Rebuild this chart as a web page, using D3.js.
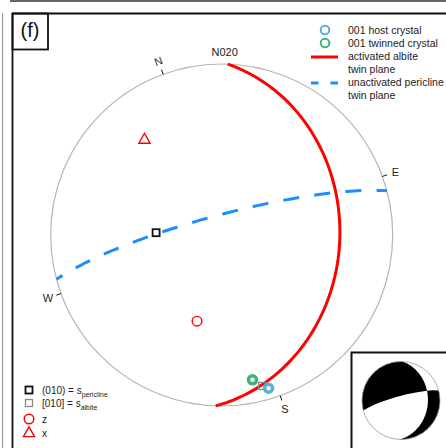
<!DOCTYPE html>
<html>
<head>
<meta charset="utf-8">
<script src="https://cdn.jsdelivr.net/npm/d3@7"></script>
<style>
  body { margin: 0; background: #fff; }
  svg { display: block; font-family: "Liberation Sans", Arial, sans-serif; }
</style>
</head>
<body>
<svg id="chart" width="446" height="448"></svg>
<script>
// Lower-hemisphere equal-area stereonet, view rotated so that N020 is up.
const viewAzimuth = 20;

// Twin planes: dip direction / dip (degrees)
const planeNames  = ["activated albite twin plane", "unactivated pericline twin plane"];
const planeDipDir = [112, 5];
const planeDip    = [31.5, 80.5];

// Lattice directions: trend / plunge
const latticeNames  = ["(010) = s", "[010] = s"];
const latticeSubs   = ["pericline", "albite"];
const latticeTrend  = [292, 185];
const latticePlunge = [58.5, 9.5];

// 001 poles of host and twinned crystal
const c001Names  = ["001 host crystal", "001 twinned crystal"];
const c001Trend  = [183, 188];
const c001Plunge = [7, 14.5];

// Kinematic axes
const axisNames  = ["z", "x"];
const axisTrend  = [216, 341];
const axisPlunge = [46.5, 29];

// Cardinal directions on the primitive
const cardinalLabels = ["N", "E", "S", "W"];
const cardinalTrend  = [0, 90, 180, 270];

const rad = Math.PI / 180, deg = 180 / Math.PI;
const svg = d3.select("#chart");

// (north, east, down) unit vector
function vec(trend, plunge) {
  const t = trend * rad, p = plunge * rad;
  return [Math.cos(p) * Math.cos(t), Math.cos(p) * Math.sin(t), Math.sin(p)];
}
// map a direction onto the sphere used by the d3 projection (down = lat 90)
function lonLat(v) {
  const n = Math.hypot(v[0], v[1], v[2]);
  const t = Math.atan2(v[1], v[0]) * deg;
  return [180 + viewAzimuth - t, Math.asin(v[2] / n) * deg];
}
const geo = (trend, plunge) => lonLat(vec(trend, plunge));
const dot = (a, b) => a[0] * b[0] + a[1] * b[1] + a[2] * b[2];
const cross = (a, b) => [a[1] * b[2] - a[2] * b[1], a[2] * b[0] - a[0] * b[2], a[0] * b[1] - a[1] * b[0]];
const norm = a => { const n = Math.hypot(a[0], a[1], a[2]); return a.map(x => x / n); };
const comb = (a, ka, b, kb) => [a[0] * ka + b[0] * kb, a[1] * ka + b[1] * kb, a[2] * ka + b[2] * kb];

function planeLine(dd, dip) {
  const s = vec(dd - 90, 0), d = vec(dd, dip);
  const coords = d3.range(0, 180.001, 2).map(a => lonLat(comb(s, Math.cos(a * rad), d, Math.sin(a * rad))));
  return { type: "LineString", coordinates: coords };
}
const planePole = i => vec(planeDipDir[i] + 180, 90 - planeDip[i]);

const planeColor = ["#ff0000", "#1a8fff"];
const c001Color  = ["#58afdc", "#3db37a"];

// ---------- panel frame ----------
svg.append("line").attr("x1", 10).attr("x2", 446).attr("y1", 1).attr("y2", 1)
  .attr("stroke", "#333").attr("stroke-width", 1.5);
svg.append("line").attr("x1", 2.5).attr("x2", 2.5).attr("y1", 13).attr("y2", 448)
  .attr("stroke", "#999").attr("stroke-width", 1.2);
svg.append("line").attr("x1", 12).attr("x2", 446).attr("y1", 13.5).attr("y2", 13.5)
  .attr("stroke", "#111").attr("stroke-width", 1.8);
svg.append("line").attr("x1", 12.5).attr("x2", 12.5).attr("y1", 13).attr("y2", 448)
  .attr("stroke", "#111").attr("stroke-width", 1.8);
svg.append("rect").attr("x", 12.5).attr("y", 13.5).attr("width", 35.5).attr("height", 36)
  .attr("fill", "none").attr("stroke", "#111").attr("stroke-width", 1.8);
svg.append("text").attr("x", 30).attr("y", 37).attr("text-anchor", "middle")
  .attr("font-size", 20).attr("fill", "#111").text("(f)");

// ---------- stereonet ----------
const cx = 221.7, cy = 235, R = 171;
const proj = d3.geoAzimuthalEqualArea().rotate([0, -90])
  .scale(R / Math.SQRT2).translate([cx, cy]).precision(0.1);
const path = d3.geoPath(proj);

svg.append("circle").attr("cx", cx).attr("cy", cy).attr("r", R)
  .attr("fill", "none").attr("stroke", "#b5b5b5").attr("stroke-width", 1.2);

// cardinal ticks and labels
cardinalTrend.forEach((t, i) => {
  const p = proj(geo(t, 0));
  const ux = (p[0] - cx) / R, uy = (p[1] - cy) / R;
  svg.append("line").attr("x1", p[0]).attr("y1", p[1])
    .attr("x2", p[0] + ux * 5).attr("y2", p[1] + uy * 5)
    .attr("stroke", "#111").attr("stroke-width", 1);
  const lx = p[0] + ux * 14, ly = p[1] + uy * 14;
  svg.append("text").attr("x", lx).attr("y", ly)
    .attr("text-anchor", "middle").attr("dominant-baseline", "central")
    .attr("font-size", 11).attr("fill", "#222")
    .attr("transform", t === 0 ? `rotate(${-viewAzimuth},${lx},${ly})` : null)
    .text(cardinalLabels[i]);
});
{
  const p = proj(geo(viewAzimuth, 0));
  svg.append("text").attr("x", p[0] + 3).attr("y", p[1] - 8)
    .attr("text-anchor", "middle").attr("font-size", 11).attr("fill", "#222")
    .text("N" + String(viewAzimuth).padStart(3, "0"));
}

// twin planes
svg.append("path").datum(planeLine(planeDipDir[1], planeDip[1])).attr("d", path)
  .attr("fill", "none").attr("stroke", planeColor[1]).attr("stroke-width", 3)
  .attr("stroke-dasharray", "16,15.3").attr("stroke-dashoffset", 9);
svg.append("path").datum(planeLine(planeDipDir[0], planeDip[0])).attr("d", path)
  .attr("fill", "none").attr("stroke", planeColor[0]).attr("stroke-width", 3);

// lattice directions (squares)
latticeTrend.forEach((t, i) => {
  const p = proj(geo(t, latticePlunge[i]));
  svg.append("rect").attr("x", p[0] - 3.5).attr("y", p[1] - 3.5).attr("width", 7).attr("height", 7)
    .attr("fill", "none").attr("stroke", i === 0 ? "#111" : "#8a8a8a").attr("stroke-width", i === 0 ? 1.8 : 1.3);
});

// 001 poles
[1, 0].forEach(i => {
  const p = proj(geo(c001Trend[i], c001Plunge[i]));
  svg.append("circle").attr("cx", p[0]).attr("cy", p[1]).attr("r", 4)
    .attr("fill", "none").attr("stroke", c001Color[i]).attr("stroke-width", 3.5);
});

// z and x axes
const triPath = "M0,-6.2L5.6,3.6L-5.6,3.6Z";
{
  const pz = proj(geo(axisTrend[0], axisPlunge[0]));
  svg.append("circle").attr("cx", pz[0]).attr("cy", pz[1]).attr("r", 4.8)
    .attr("fill", "none").attr("stroke", "#ff0000").attr("stroke-width", 1.4);
  const px = proj(geo(axisTrend[1], axisPlunge[1]));
  svg.append("path").attr("d", triPath).attr("transform", `translate(${px[0]},${px[1]})`)
    .attr("fill", "none").attr("stroke", "#ff0000").attr("stroke-width", 1.4);
}

// ---------- legend, top right ----------
const lg = svg.append("g").attr("font-size", 10.5).attr("fill", "#222");
c001Names.forEach((n, i) => {
  const y = 30 + i * 13;
  lg.append("circle").attr("cx", 325).attr("cy", y).attr("r", 4.3)
    .attr("fill", "none").attr("stroke", c001Color[i]).attr("stroke-width", 2);
  lg.append("text").attr("x", 348).attr("y", y + 4).text(n);
});
lg.append("line").attr("x1", 311).attr("x2", 338).attr("y1", 57).attr("y2", 57)
  .attr("stroke", planeColor[0]).attr("stroke-width", 3);
lg.append("text").attr("x", 348).attr("y", 60).text("activated albite");
lg.append("text").attr("x", 348).attr("y", 73).text("twin plane");
lg.append("line").attr("x1", 311).attr("x2", 338).attr("y1", 83).attr("y2", 83)
  .attr("stroke", planeColor[1]).attr("stroke-width", 3).attr("stroke-dasharray", "7.5,12");
lg.append("text").attr("x", 348).attr("y", 86).text("unactivated pericline");
lg.append("text").attr("x", 348).attr("y", 99).text("twin plane");

// ---------- legend, bottom left ----------
const lb = svg.append("g").attr("font-size", 10).attr("fill", "#222");
latticeNames.forEach((n, i) => {
  const y = 390 + i * 13;
  lb.append("rect").attr("x", 29 - 3.5).attr("y", y - 3.5).attr("width", 7).attr("height", 7)
    .attr("fill", "none").attr("stroke", i === 0 ? "#111" : "#8a8a8a").attr("stroke-width", i === 0 ? 1.8 : 1.3);
  const t = lb.append("text").attr("x", 42).attr("y", y + 4).text(n);
  t.append("tspan").attr("font-size", 7).attr("dy", 2.7).text(latticeSubs[i]);
});
lb.append("circle").attr("cx", 29).attr("cy", 419).attr("r", 4.8)
  .attr("fill", "none").attr("stroke", "#ff0000").attr("stroke-width", 1.4);
lb.append("text").attr("x", 42).attr("y", 423).text(axisNames[0]);
lb.append("path").attr("d", triPath).attr("transform", "translate(29,433)")
  .attr("fill", "none").attr("stroke", "#ff0000").attr("stroke-width", 1.4);
lb.append("text").attr("x", 42).attr("y", 437).text(axisNames[1]);

// ---------- inset: beach ball of the two twin planes ----------
svg.append("rect").attr("x", 351.5).attr("y", 352.5).attr("width", 120).attr("height", 120)
  .attr("fill", "#fff").attr("stroke", "#111").attr("stroke-width", 2);
const bx = 401, by = 400.5, br = 39;
const projB = d3.geoAzimuthalEqualArea().rotate([0, -90])
  .scale(br / Math.SQRT2).translate([bx, by]).clipAngle(90).precision(0.1);
const pathB = d3.geoPath(projB);
svg.append("circle").attr("cx", bx).attr("cy", by).attr("r", br).attr("fill", "#fff");
const n1 = planePole(0), n2 = planePole(1);
const A = norm(cross(n1, n2));
const shadedSign = -1; // quadrants where (n1·v)(n2·v) < 0 are shaded
[[1, -1], [-1, 1]].forEach(([s1, s2]) => {
  if (s1 * s2 !== shadedSign) return;
  const M1 = norm(comb(n2, 1, n1, -dot(n1, n2))).map(x => x * s2);
  const M2 = norm(comb(n1, 1, n2, -dot(n1, n2))).map(x => x * s1);
  let ring = [A, M1, A.map(x => -x), M2, A].map(lonLat);
  let feat = { type: "Polygon", coordinates: [ring] };
  if (d3.geoArea(feat) > 2 * Math.PI) feat = { type: "Polygon", coordinates: [ring.slice().reverse()] };
  svg.append("path").datum(feat).attr("d", pathB).attr("fill", "#000");
});
svg.append("circle").attr("cx", bx).attr("cy", by).attr("r", br)
  .attr("fill", "none").attr("stroke", "#999").attr("stroke-width", 0.8);
</script>
</body>
</html>
